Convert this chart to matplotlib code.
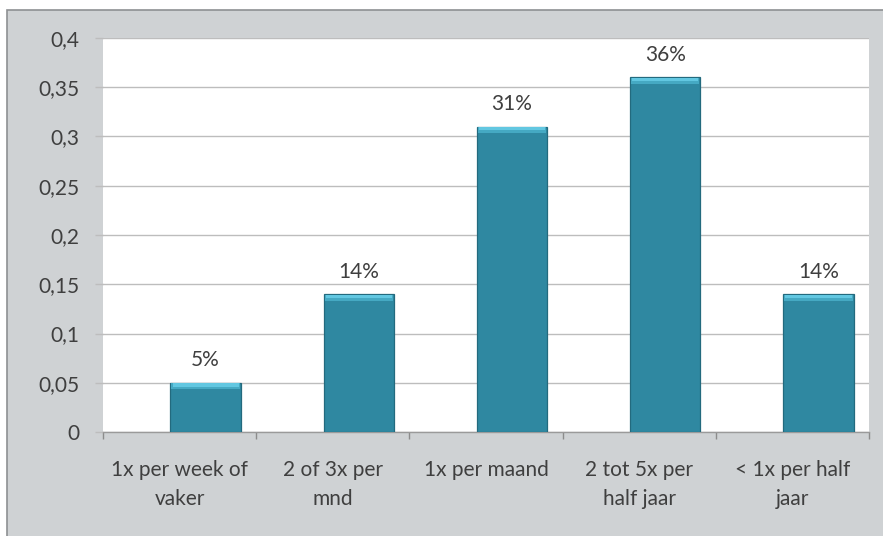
import matplotlib
matplotlib.use("Agg")
import matplotlib.pyplot as plt
from matplotlib.patches import Rectangle
from matplotlib.ticker import FuncFormatter, MultipleLocator

# ── data ─────────────────────────────────────
categories = ["1x per week of\nvaker", "2 of 3x per\nmnd", "1x per maand",
              "2 tot 5x per\nhalf jaar", "< 1x per half\njaar"]
shares = [0.05, 0.14, 0.31, 0.36, 0.14]
share_labels = ["5%", "14%", "31%", "36%", "14%"]

# ── style ────────────────────────────────────
BG = "#cfd2d4"
BAR = "#2f88a1"
BAR_EDGE = "#236a7e"
BEVEL = "#62c7e1"
BEVEL_MID = "#45a9c3"
TEXT = "#3f3f3f"
GRID = "#bdbdbd"
FS = 15

plt.rcParams["font.family"] = ["Lato", "DejaVu Sans"]

fig = plt.figure(figsize=(8.83, 5.36), dpi=100)
fig.patch.set_facecolor("white")

# grey chart panel with a darker frame on the left and top
panel = Rectangle((7 / 883, -0.01), 1.0, 1 - 10 / 536 + 0.01,
                  transform=fig.transFigure, facecolor=BG,
                  edgecolor="#8e9092", linewidth=1.2, zorder=-10)
fig.add_artist(panel)

ax = fig.add_axes([103 / 883, 104 / 536, 766 / 883, 394 / 536])
ax.set_facecolor("white")

x = range(len(categories))
offset = 0.17
width = 0.46
bar_x = [i + offset for i in x]

ax.bar(bar_x, shares, width=width, color=BAR, edgecolor=BAR_EDGE,
       linewidth=0.9, zorder=3)
# lighter bevel across the top of each bar
bevel_h = 0.006
ax.bar(bar_x, [bevel_h] * len(shares), width=width * 0.97,
       bottom=[v - bevel_h - 0.0006 for v in shares], color=BEVEL_MID,
       linewidth=0, zorder=4)
ax.bar(bar_x, [bevel_h * 0.55] * len(shares), width=width * 0.94,
       bottom=[v - bevel_h * 0.55 - 0.0006 for v in shares], color=BEVEL,
       linewidth=0, zorder=5)

for bx, v, lab in zip(bar_x, shares, share_labels):
    ax.annotate(lab, (bx, v), xytext=(0, 9), textcoords="offset points",
                ha="center", va="bottom", fontsize=FS, color=TEXT)

ax.set_xlim(-0.5, len(categories) - 0.5)
ax.set_ylim(0, 0.4)
ax.yaxis.set_major_locator(MultipleLocator(0.05))
ax.yaxis.set_major_formatter(
    FuncFormatter(lambda v, _: f"{round(v, 2):g}".replace(".", ",")))
ax.yaxis.grid(True, color=GRID, linewidth=1)
ax.set_axisbelow(True)

ax.set_xticks(list(x))
ax.set_xticklabels(categories, fontsize=FS, color=TEXT, linespacing=1.6)
ax.set_xticks([i - 0.5 for i in range(len(categories) + 1)], minor=True)
ax.tick_params(axis="x", which="major", length=0, pad=20)
ax.tick_params(axis="x", which="minor", length=5, color="#8c8c8c", width=1)
ax.tick_params(axis="y", length=6, color=GRID, width=1, pad=11,
               labelsize=FS, labelcolor=TEXT)

for side in ("top", "right", "left"):
    ax.spines[side].set_visible(False)
ax.spines["bottom"].set_color("#9a9a9a")
ax.spines["bottom"].set_linewidth(1)

fig.savefig("out.png", dpi=100, facecolor=fig.get_facecolor())
